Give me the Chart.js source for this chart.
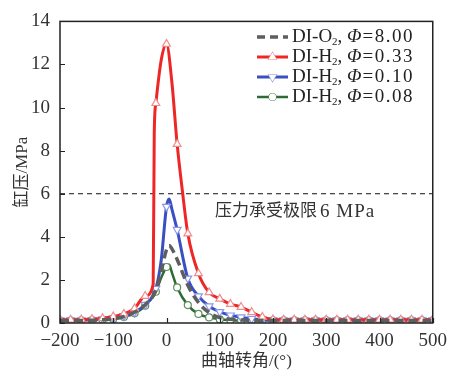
<!DOCTYPE html>
<html>
<head>
<meta charset="utf-8">
<script src="https://cdn.jsdelivr.net/npm/chart.js@4.4.1/dist/chart.umd.min.js"></script>
<style>
  html, body { margin: 0; padding: 0; background: #fff; }
  canvas { display: block; }
</style>
</head>
<body>
<canvas id="pressure-chart" width="454" height="374"></canvas>
<script>
// crank angle (deg) and cylinder pressure (MPa)
var tailAngles = [200, 220, 240, 260, 280, 300, 320, 340, 360, 380, 400, 420, 440, 460, 480, 500];

var angleO2 = [-200, -180, -160, -140, -120, -100, -80, -60, -40, -20, -10, 0, 5, 10, 20, 40, 60, 80, 100, 120, 140, 160, 180].concat(tailAngles);
var pressO2 = [0.12, 0.12, 0.12, 0.13, 0.15, 0.2, 0.3, 0.5, 0.85, 1.5, 2.4, 3.4, 3.6, 3.45, 2.95, 1.75, 0.95, 0.48, 0.25, 0.17, 0.14, 0.12, 0.12,
  0.12, 0.12, 0.12, 0.12, 0.12, 0.12, 0.12, 0.12, 0.12, 0.12, 0.12, 0.12, 0.12, 0.12, 0.12, 0.12];

var angleH033 = [-200, -180, -160, -140, -120, -100, -80, -60, -40, -25, -23, -20, -10, 0, 10, 20, 30, 40, 60, 80, 100, 120, 140, 160, 180].concat(tailAngles);
var pressH033 = [0.15, 0.15, 0.16, 0.18, 0.22, 0.3, 0.42, 0.68, 1.25, 1.8, 8.8, 10.2, 12.2, 12.95, 11.2, 8.3, 6.1, 4.15, 2.3, 1.42, 1.12, 0.88, 0.74, 0.5, 0.28,
  0.16, 0.15, 0.15, 0.15, 0.15, 0.15, 0.15, 0.15, 0.15, 0.15, 0.15, 0.15, 0.15, 0.15, 0.15, 0.15];

var angleH010 = [-200, -180, -160, -140, -120, -100, -80, -60, -40, -20, -10, 0, 5, 10, 20, 40, 60, 80, 100, 120, 140, 160, 180].concat(tailAngles);
var pressH010 = [0.13, 0.13, 0.14, 0.15, 0.18, 0.22, 0.32, 0.5, 0.85, 1.6, 2.9, 5.4, 5.76, 5.3, 4.33, 2.07, 1.25, 0.78, 0.52, 0.36, 0.27, 0.2, 0.16,
  0.14, 0.14, 0.14, 0.14, 0.14, 0.14, 0.14, 0.14, 0.14, 0.14, 0.14, 0.14, 0.14, 0.14, 0.14, 0.14];

var angleH008 = [-200, -180, -160, -140, -120, -100, -80, -60, -40, -20, -10, 0, 5, 10, 20, 40, 60, 80, 100, 120, 140, 160, 180].concat(tailAngles);
var pressH008 = [0.11, 0.11, 0.12, 0.13, 0.15, 0.18, 0.28, 0.45, 0.8, 1.45, 2.1, 2.6, 2.7, 2.35, 1.65, 0.83, 0.42, 0.26, 0.17, 0.13, 0.12, 0.12, 0.12,
  0.12, 0.12, 0.12, 0.12, 0.12, 0.12, 0.12, 0.12, 0.12, 0.12, 0.12, 0.12, 0.12, 0.12, 0.12, 0.12];

var limitAngles = [-200, 500];
var limitPressure = [6, 6];

var legendGas = ["O", "H", "H", "H"];
var legendPhi = ["8.00", "0.33", "0.10", "0.08"];
var xTicks = [-200, -100, 0, 100, 200, 300, 400, 500];
var yTicks = [0, 2, 4, 6, 8, 10, 12, 14];

var serif = "'Liberation Serif', 'Noto Sans CJK SC', serif";

function toPoints(xs, ys) {
  return xs.map(function (x, i) {
    return { x: x, y: ys[i] };
  });
}

function markerRadius(r) {
  return function (ctx) {
    var raw = ctx.raw;
    return raw && raw.x % 20 === 0 ? r : 0;
  };
}

var seriesStyle = [
  { color: "#5e5e5e", dash: [9, 5], width: 3.5, marker: false },
  { color: "#ee2626", dash: [], width: 3, marker: "triangle", rot: 0, markerColor: "#f08c8c", r: 4.5 },
  { color: "#3a4fc0", dash: [], width: 3, marker: "triangle", rot: 180, markerColor: "#8c98e6", r: 4.5 },
  { color: "#2d6a34", dash: [], width: 2.5, marker: "circle", rot: 0, markerColor: "#5d8f5f", r: 3.5 },
];

function buildDataset(label, xs, ys, st) {
  return {
    label: label,
    data: toPoints(xs, ys),
    borderColor: st.color,
    borderWidth: st.width,
    borderDash: st.dash,
    cubicInterpolationMode: "monotone",
    fill: false,
    pointStyle: st.marker || "circle",
    rotation: st.rot || 0,
    pointRadius: st.marker ? markerRadius(st.r) : 0,
    pointBackgroundColor: "#ffffff",
    pointBorderColor: st.markerColor || st.color,
    pointBorderWidth: 1.2,
  };
}

var datasets = [
  buildDataset("DI-O₂, Φ=8.00", angleO2, pressO2, seriesStyle[0]),
  buildDataset("DI-H₂, Φ=0.33", angleH033, pressH033, seriesStyle[1]),
  buildDataset("DI-H₂, Φ=0.10", angleH010, pressH010, seriesStyle[2]),
  buildDataset("DI-H₂, Φ=0.08", angleH008, pressH008, seriesStyle[3]),
  {
    label: "limit",
    data: toPoints(limitAngles, limitPressure),
    borderColor: "#111",
    borderWidth: 1,
    borderDash: [5, 4],
    pointRadius: 0,
    fill: false,
  },
];

// frame, inward ticks, note text and the legend inside the plot
var decorPlugin = {
  id: "decor",
  afterDraw: function (chart) {
    var c = chart.ctx;
    var area = chart.chartArea;
    var xs = chart.scales.x;
    var ys = chart.scales.y;

    c.save();
    c.strokeStyle = "#222";
    c.lineWidth = 1.5;
    c.strokeRect(area.left, area.top, area.right - area.left, area.bottom - area.top);

    c.lineWidth = 1.2;
    c.beginPath();
    xTicks.forEach(function (t) {
      var px = Math.round(xs.getPixelForValue(t)) + 0.5;
      c.moveTo(px, area.bottom);
      c.lineTo(px, area.bottom - 5);
    });
    yTicks.forEach(function (t) {
      var py = Math.round(ys.getPixelForValue(t)) + 0.5;
      c.moveTo(area.left, py);
      c.lineTo(area.left + 5, py);
    });
    c.stroke();

    // note under the limit line
    var noteY = ys.getPixelForValue(6) + 18;
    c.fillStyle = "#333";
    c.textBaseline = "middle";
    c.font = "17px " + serif;
    c.fillText("压力承受极限", 215, noteY);
    c.font = "19px " + serif;
    c.letterSpacing = "1px";
    c.fillText("6 MPa", 320, noteY);
    c.letterSpacing = "0px";

    // legend
    var rowY = [37, 57, 77, 97];
    datasets.slice(0, 4).forEach(function (ds, i) {
      var st = seriesStyle[i];
      var y = rowY[i];
      c.save();
      c.strokeStyle = st.color;
      c.lineWidth = st.width;
      c.setLineDash(st.dash.length ? [8, 5] : []);
      c.beginPath();
      c.moveTo(257, y);
      c.lineTo(288, y);
      c.stroke();
      c.restore();
      if (st.marker) {
        c.save();
        c.fillStyle = "#fff";
        c.strokeStyle = st.markerColor;
        c.lineWidth = 1.2;
        Chart.helpers.drawPoint(c, { pointStyle: st.marker, rotation: st.rot, radius: st.r, borderWidth: 1.2 }, 272.5, y);
        c.fill();
        c.restore();
      }
      c.fillStyle = "#222";
      c.textBaseline = "middle";
      var x = 292;
      c.font = "19px " + serif;
      var part = "DI-" + legendGas[i];
      c.fillText(part, x, y);
      x += c.measureText(part).width;
      c.font = "11px " + serif;
      c.fillText("2", x, y + 5);
      x += c.measureText("2").width;
      c.font = "19px " + serif;
      c.fillText(", ", x, y);
      x += c.measureText(", ").width;
      c.font = "italic 19px " + serif;
      c.fillText("Φ", x, y);
      x += c.measureText("Φ").width + 1;
      c.font = "19px " + serif;
      c.letterSpacing = "1.5px";
      c.fillText("=" + legendPhi[i], x, y);
      c.letterSpacing = "0px";
    });
    c.restore();
  },
};

var ctx = document.getElementById("pressure-chart");
new Chart(ctx, {
  type: "line",
  data: { datasets: datasets },
  options: {
    responsive: false,
    animation: false,
    devicePixelRatio: 1,
    layout: { padding: { left: 0, right: 16, top: 20, bottom: 0 } },
    plugins: {
      legend: { display: false },
      tooltip: { enabled: false },
    },
    scales: {
      x: {
        type: "linear",
        min: -200,
        max: 500,
        afterFit: function (scale) { scale.height = 51; },
        afterBuildTicks: function (scale) {
          scale.ticks = xTicks.map(function (v) { return { value: v }; });
        },
        grid: { display: false, drawTicks: false },
        border: { display: false },
        ticks: {
          padding: 7,
          color: "#333",
          font: { family: serif, size: 19 },
          callback: function (v) { return String(v).replace("-", "\u2212"); },
        },
        title: {
          display: true,
          text: "曲轴转角/(°)",
          color: "#333",
          font: { family: serif, size: 17 },
          padding: { top: 0, bottom: 2 },
        },
      },
      y: {
        min: 0,
        max: 14,
        afterFit: function (scale) { scale.width = 60; },
        afterBuildTicks: function (scale) {
          scale.ticks = yTicks.map(function (v) { return { value: v }; });
        },
        grid: { display: false, drawTicks: false },
        border: { display: false },
        ticks: {
          padding: 10,
          color: "#333",
          font: { family: serif, size: 19 },
        },
        title: {
          display: true,
          text: "缸压/MPa",
          color: "#333",
          font: { family: serif, size: 17 },
          padding: { top: 12, bottom: 0 },
        },
      },
    },
  },
  plugins: [decorPlugin],
});
</script>
</body>
</html>
